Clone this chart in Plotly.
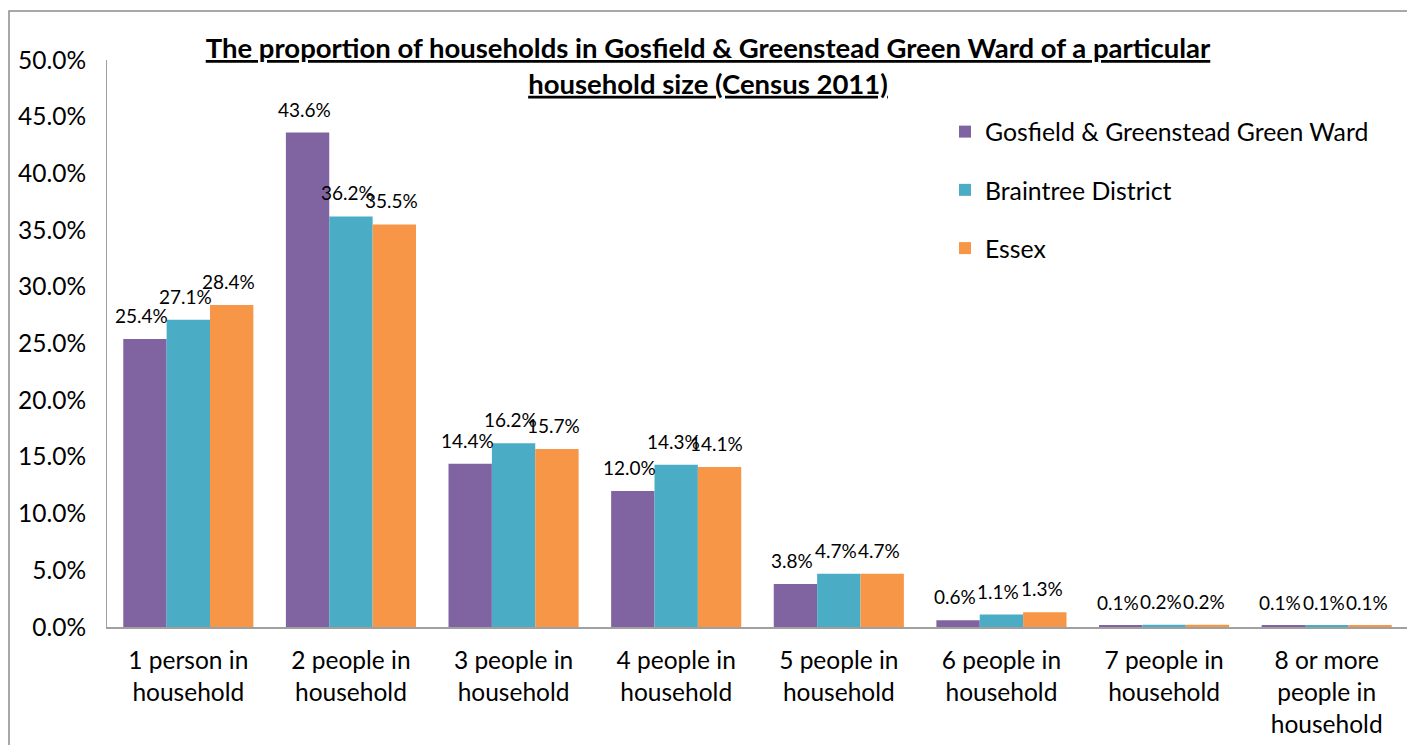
import plotly.graph_objects as go

categories = ["1 person in<br>household", "2 people in<br>household", "3 people in<br>household",
              "4 people in<br>household", "5 people in<br>household", "6 people in<br>household",
              "7 people in<br>household", "8 or more<br>people in<br>household"]
ward = [25.4, 43.6, 14.4, 12.0, 3.8, 0.6, 0.1, 0.1]
district = [27.1, 36.2, 16.2, 14.3, 4.7, 1.1, 0.2, 0.1]
essex = [28.4, 35.5, 15.7, 14.1, 4.7, 1.3, 0.2, 0.1]
series_names = ["Gosfield & Greenstead Green Ward", "Braintree District", "Essex"]
colors = ["#8064A2", "#4BACC6", "#F79646"]

# page offset (browser body margin)
O = 8
SW, SH = 1415, 745
W, H = SW - O, SH - O
L, R, T, B = 107, 1408, 60, 627
BARGAP = 0.2
FONT = "Lato"

fig = go.Figure()
all_series = [ward, district, essex]
for i, (name, vals, c) in enumerate(zip(series_names, all_series, colors)):
    fig.add_trace(go.Bar(
        x=list(range(len(categories))), y=vals, name=name,
        marker=dict(color=c, line=dict(width=0)),
        legendgroup=f"g{i}", hoverinfo="y+name",
    ))

# data labels positioned through the axes
annotations = []
nser = len(all_series)
bw = (1 - BARGAP) / nser
for j, vals in enumerate(all_series):
    off = (j - (nser - 1) / 2) * bw
    for k, v in enumerate(vals):
        annotations.append(dict(
            x=k + off, y=v, xref="x", yref="y", text=f"{v:.1f}%",
            showarrow=False, yanchor="bottom", xanchor="center", yshift=10, xshift=-3,
            font=dict(size=19, family=FONT, color="#000000"),
        ))

def px(x):
    return (x - L) / (R - L)

def py(y):
    return (B - y) / (B - T)

fig.update_layout(
    width=W, height=H,
    margin=dict(l=L - O, r=SW - R, t=T - O, b=SH - B, autoexpand=False),
    paper_bgcolor="white", plot_bgcolor="white",
    font=dict(family=FONT, color="#000000"),
    barmode="group", bargap=BARGAP, bargroupgap=0,
    title=dict(text="<b><u>The proportion of households in Gosfield & Greenstead Green Ward of a particular</u></b><br><b><u>household size (Census 2011)</u></b>",
               x=(708 - O) / W, xanchor="center", xref="container",
               y=1 - (58 - O) / H, yanchor="top", yref="container",
               font=dict(size=27.5, family=FONT, color="#000000")),
    legend=dict(x=px(945), y=py(109), xanchor="left", yanchor="top",
                font=dict(size=24.8, family=FONT), traceorder="grouped",
                tracegroupgap=23, bgcolor="rgba(0,0,0,0)"),
    xaxis=dict(showline=True, linecolor="#A0A0A0", linewidth=2, ticks="",
               tickmode="array", tickvals=list(range(len(categories))), ticktext=categories,
               range=[-0.5, len(categories) - 0.5],
               tickfont=dict(size=24.5, family=FONT), showgrid=False, ticklabelstandoff=11),
    yaxis=dict(range=[0, 50], dtick=5, ticksuffix="%", tickformat=".1f",
               showline=True, linecolor="#A0A0A0", linewidth=1, ticks="",
               showgrid=False, zeroline=False, ticklabelstandoff=15,
               tickfont=dict(size=24.5, family=FONT)),
    annotations=annotations,
    shapes=[dict(type="rect", xref="paper", yref="paper",
                 x0=px(O + 1), x1=px(1412), y0=py(760), y1=py(11),
                 line=dict(color="#8C8C8C", width=1.5), fillcolor="rgba(0,0,0,0)", layer="below")],
)

fig.write_html("out.html")
